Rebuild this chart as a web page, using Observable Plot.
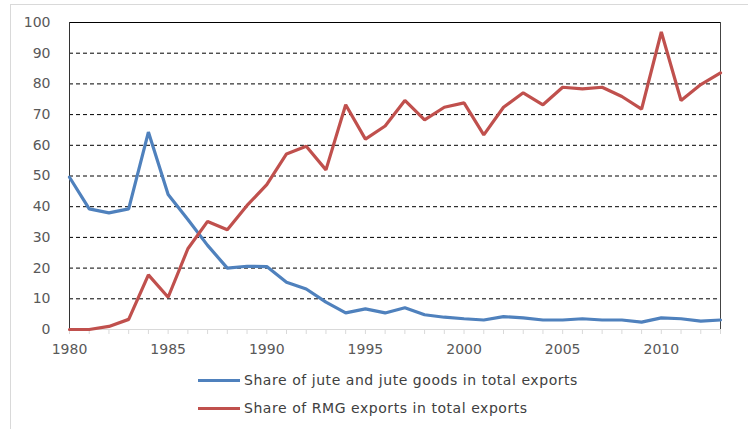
<!DOCTYPE html>
<html>
<head>
<meta charset="utf-8">
<script src="https://cdn.jsdelivr.net/npm/d3@7"></script>
<script src="https://cdn.jsdelivr.net/npm/@observablehq/plot@0.6"></script>
<style>
  html, body { margin: 0; padding: 0; background: #fff; overflow: hidden; }
  #wrap { position: relative; width: 748px; height: 429px; }
  #border { position: absolute; left: 10px; top: 4px; width: 760px; height: 440px; border: 1px solid #d9d9d9; box-sizing: border-box; }
  #chart { position: absolute; left: 0; top: 0; }
  .leg { position: absolute; left: 198px; display: flex; align-items: center; font-family: "DejaVu Sans", sans-serif; font-size: 14px; letter-spacing: 0.55px; color: #404040; white-space: nowrap; }
  .leg .sw { width: 42px; height: 3px; margin-right: 4px; }
</style>
</head>
<body>
<div id="wrap">
  <div id="border"></div>
  <div id="chart"></div>
  <div id="legend"></div>
</div>
<script>
const years = d3.range(1980, 2014);
const juteShare = [49.6, 39.3, 38.0, 39.3, 64.3, 44.0, 35.8, 27.4, 20.0, 20.6, 20.5, 15.4, 13.2, 8.9, 5.4, 6.7,
                   5.4, 7.1, 4.8, 4.0, 3.5, 3.1, 4.2, 3.8, 3.1, 3.1, 3.5, 3.1, 3.1, 2.4, 3.8, 3.5, 2.7, 3.1];
const rmgShare  = [0.0, 0.0, 1.0, 3.3, 17.8, 10.5, 26.3, 35.2, 32.5, 40.4, 47.2, 57.2, 59.7, 52.0, 73.2, 62.0,
                   66.3, 74.6, 68.3, 72.4, 73.8, 63.4, 72.4, 77.1, 73.2, 78.9, 78.4, 78.9, 75.9, 71.8, 96.9, 74.6, 79.8, 83.6];
const seriesNames = ["Share of jute and jute goods in total exports", "Share of RMG exports in total exports"];
const seriesColors = ["#4f81bd", "#c0504d"];
const yTicks = d3.range(0, 101, 10);
const gridTicks = d3.range(10, 91, 10);
const xLabelTicks = [1980, 1985, 1990, 1995, 2000, 2005, 2010];

const rows = [];
years.forEach((y, i) => {
  rows.push({year: y, value: juteShare[i], series: seriesNames[0]});
  rows.push({year: y, value: rmgShare[i], series: seriesNames[1]});
});

const font = "DejaVu Sans, sans-serif";
const chart = Plot.plot({
  width: 748,
  height: 355,
  marginLeft: 69,
  marginRight: 28,
  marginTop: 22,
  marginBottom: 26,
  style: {fontFamily: font, background: "transparent", overflow: "visible"},
  x: {domain: [1980, 2013], axis: null, label: null},
  y: {domain: [0, 100], axis: null, label: null},
  color: {domain: seriesNames, range: seriesColors},
  marks: [
    Plot.ruleY(gridTicks, {stroke: "#000", strokeWidth: 1, strokeDasharray: "4,3"}),
    Plot.ruleY([100], {stroke: "#000", strokeWidth: 1}),
    Plot.ruleX([2013], {stroke: "#444", strokeWidth: 1}),
    Plot.ruleX([1980], {stroke: "#333", strokeWidth: 1}),
    Plot.ruleY([0], {stroke: "#d9d9d9", strokeWidth: 1}),
    Plot.axisX(years, {tickSize: 5, stroke: "#d9d9d9", label: null, tickFormat: () => ""}),
    Plot.axisX(xLabelTicks, {tickSize: 0, tickPadding: 15, fill: "#595959", fontSize: 14, label: null, tickFormat: d => String(d)}),
    Plot.axisY(yTicks, {tickSize: 0, tickPadding: 19, fill: "#595959", fontSize: 14, label: null, tickFormat: d => String(d)}),
    Plot.lineY(rows, {x: "year", y: "value", z: "series", stroke: "series", strokeWidth: 3.2, strokeLinejoin: "miter"})
  ]
});
document.getElementById("chart").appendChild(chart);

const legend = document.getElementById("legend");
const legTops = [372, 400];
seriesNames.forEach((name, i) => {
  const item = document.createElement("div");
  item.className = "leg";
  item.style.top = legTops[i] + "px";
  item.innerHTML = `<span class="sw" style="background:${seriesColors[i]}"></span><span>${name}</span>`;
  legend.appendChild(item);
});
</script>
</body>
</html>
